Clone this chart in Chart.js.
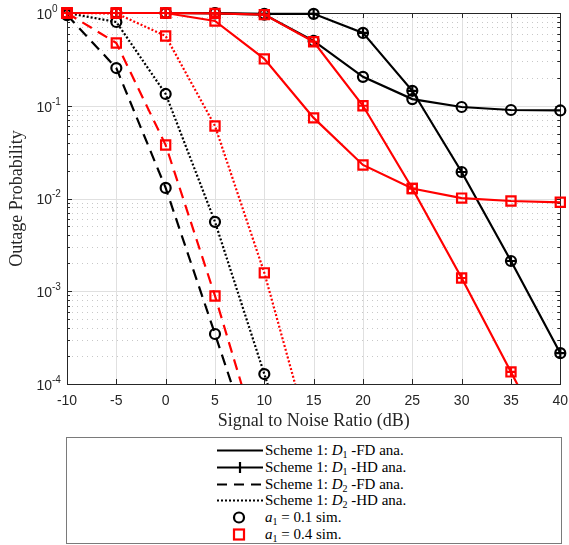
<!DOCTYPE html>
<html lang="en">
<head>
<meta charset="UTF-8">
<title>Outage Probability vs SNR</title>
<script src="https://cdn.jsdelivr.net/npm/chart.js@4.4.0/dist/chart.umd.min.js"></script>
<style>
  body { margin: 0; background: #fff; }
  #wrap { position: relative; width: 569px; height: 545px; overflow: hidden; }
  #plot { position: absolute; left: 0; top: 0; }
  .legend { position: absolute; left: 66px; top: 437px; width: 494px; height: 105px;
            border: 1px solid #7a7a7a; background: #fff;
            font-family: "Liberation Serif", serif; font-size: 15px; color: #000; }
  .row { position: absolute; left: 0; width: 100%; height: 17px; }
  .row svg { position: absolute; left: 150px; top: 0; }
  .row .txt { position: absolute; left: 198px; top: 0; line-height: 17px; white-space: nowrap; }
  .txt sub { font-size: 10px; vertical-align: -3px; line-height: 0; }
</style>
</head>
<body>
<div id="wrap">
  <canvas id="plot" width="569" height="434"></canvas>
  <div class="legend">
    <div class="row" style="top:4px">
      <svg width="46" height="17"><line x1="0" y1="8.5" x2="46" y2="8.5" stroke="#000" stroke-width="2.2"/></svg>
      <span class="txt">Scheme 1: <i>D</i><sub>1</sub> -FD ana.</span>
    </div>
    <div class="row" style="top:21px">
      <svg width="46" height="17"><line x1="0" y1="8.5" x2="46" y2="8.5" stroke="#000" stroke-width="2.2"/><line x1="23" y1="3" x2="23" y2="14" stroke="#000" stroke-width="2.2"/></svg>
      <span class="txt">Scheme 1: <i>D</i><sub>1</sub> -HD ana.</span>
    </div>
    <div class="row" style="top:38px">
      <svg width="46" height="17"><line x1="0" y1="8.5" x2="46" y2="8.5" stroke="#000" stroke-width="2.2" stroke-dasharray="10 7"/></svg>
      <span class="txt">Scheme 1: <i>D</i><sub>2</sub> -FD ana.</span>
    </div>
    <div class="row" style="top:54px">
      <svg width="46" height="17"><line x1="0" y1="8.5" x2="46" y2="8.5" stroke="#000" stroke-width="2.2" stroke-dasharray="2 2"/></svg>
      <span class="txt">Scheme 1: <i>D</i><sub>2</sub> -HD ana.</span>
    </div>
    <div class="row" style="top:71px">
      <svg width="46" height="17"><circle cx="22" cy="8.5" r="5" fill="none" stroke="#000" stroke-width="2.2"/></svg>
      <span class="txt"><i>a</i><sub>1</sub> = 0.1 sim.</span>
    </div>
    <div class="row" style="top:88px">
      <svg width="46" height="17"><rect x="17" y="3.5" width="10" height="10" fill="none" stroke="#f00" stroke-width="2.2"/></svg>
      <span class="txt"><i>a</i><sub>1</sub> = 0.4 sim.</span>
    </div>
  </div>
</div>
<script>
// SNR points (dB)
const snr = [-10, -5, 0, 5, 10, 15, 20, 25, 30, 35, 40];

// a1 = 0.1
const d1FdA01 = [1, 1, 1, 0.99, 0.96, 0.5, 0.205, 0.118, 0.097, 0.09, 0.089];
const d1HdA01 = [1, 1, 1, 1, 0.98, 0.98, 0.61, 0.145, 0.0193, 0.00212, 0.000215];
const d2FdA01 = [0.95, 0.255, 0.013, 0.000346, 0.0000087, null, null, null, null, null, null];
const d2HdA01 = [1, 0.8, 0.134, 0.0056, 0.000128, 0.000003, null, null, null, null, null];

// a1 = 0.4
const d1FdA04 = [1, 1, 1, 0.82, 0.32, 0.074, 0.023, 0.0128, 0.0101, 0.0094, 0.0091];
const d1HdA04 = [1, 1, 1, 0.99, 0.96, 0.49, 0.1, 0.0128, 0.00139, 0.000135, 0.0000125];
const d2FdA04 = [1, 0.475, 0.0377, 0.00089, 0.000015, null, null, null, null, null, null];
const d2HdA04 = [1, 0.99, 0.565, 0.0605, 0.00158, 0.000019, null, null, null, null, null];

// axis ticks
const xTicks = [-10, -5, 0, 5, 10, 15, 20, 25, 30, 35, 40];
const yTicks = [1e-4, 1e-3, 1e-2, 1e-1, 1];
const yTickBase = ['10', '10', '10', '10', '10'];
const yTickExp = ['-4', '-3', '-2', '-1', '0'];

const BLACK = '#000000';
const RED = '#ff0000';
const AXIS = '#262626';
const LW = 2.2;

const yMinor = [];
for (let e = -4; e < 0; e++) {
  for (let m = 2; m <= 9; m++) yMinor.push(m * Math.pow(10, e));
}

function pts(vals) {
  return snr.map((x, i) => ({ x: x, y: vals[i] })).filter(p => p.y !== null);
}

// a curve with its simulation markers on it
function curve(label, vals, color, dash, marker, radius) {
  return {
    label: label,
    data: pts(vals),
    borderColor: color,
    borderWidth: LW,
    borderDash: dash,
    pointStyle: marker,
    pointRadius: radius,
    pointBorderColor: color,
    pointBorderWidth: LW,
    pointBackgroundColor: 'rgba(0,0,0,0)',
    fill: false,
    tension: 0,
    clip: { left: 8, top: 8, right: 8, bottom: 0 }
  };
}

// '+' markers of the HD curves
function crosses(label, vals, color, radius) {
  return {
    label: label,
    data: pts(vals),
    showLine: false,
    pointStyle: 'cross',
    pointRadius: radius,
    pointBorderColor: color,
    pointBorderWidth: LW,
    clip: { left: 8, top: 8, right: 8, bottom: 0 }
  };
}

function hline(ctx, x1, x2, y) { ctx.beginPath(); ctx.moveTo(x1, y); ctx.lineTo(x2, y); ctx.stroke(); }
function vline(ctx, x, y1, y2) { ctx.beginPath(); ctx.moveTo(x, y1); ctx.lineTo(x, y2); ctx.stroke(); }

// grid, axes box, inward ticks and the 10^n labels
const frame = {
  id: 'frame',
  beforeDatasetsDraw(chart) {
    const { ctx, chartArea: a, scales: { x, y } } = chart;
    ctx.save();
    ctx.lineWidth = 1;

    ctx.strokeStyle = '#c8c8c8';
    ctx.setLineDash([1, 4]);
    yMinor.forEach(v => hline(ctx, a.left, a.right, Math.round(y.getPixelForValue(v)) + 0.5));
    ctx.setLineDash([]);

    ctx.strokeStyle = '#e0e0e0';
    xTicks.forEach(v => vline(ctx, Math.round(x.getPixelForValue(v)) + 0.5, a.top, a.bottom));
    yTicks.forEach(v => hline(ctx, a.left, a.right, Math.round(y.getPixelForValue(v)) + 0.5));

    ctx.strokeStyle = AXIS;
    xTicks.forEach(v => {
      const px = Math.round(x.getPixelForValue(v)) + 0.5;
      vline(ctx, px, a.bottom, a.bottom - 5);
      vline(ctx, px, a.top, a.top + 5);
    });
    yTicks.forEach(v => {
      const py = Math.round(y.getPixelForValue(v)) + 0.5;
      hline(ctx, a.left, a.left + 5, py);
      hline(ctx, a.right, a.right - 5, py);
    });
    yMinor.forEach(v => {
      const py = Math.round(y.getPixelForValue(v)) + 0.5;
      hline(ctx, a.left, a.left + 3, py);
      hline(ctx, a.right, a.right - 3, py);
    });
    ctx.strokeRect(Math.round(a.left) + 0.5, Math.round(a.top) + 0.5,
                   Math.round(a.right - a.left), Math.round(a.bottom - a.top));

    ctx.fillStyle = AXIS;
    ctx.textBaseline = 'middle';
    yTicks.forEach((v, i) => {
      const py = y.getPixelForValue(v);
      ctx.font = '14px "Liberation Sans"';
      ctx.textAlign = 'right';
      ctx.fillText(yTickBase[i], 52, py + 2);
      ctx.font = '10px "Liberation Sans"';
      ctx.textAlign = 'left';
      ctx.fillText(yTickExp[i], 52, py - 4);
    });
    ctx.restore();
  }
};

new Chart(document.getElementById('plot'), {
  type: 'line',
  data: {
    datasets: [
      crosses('D1 HD a1=0.4 +', d1HdA04, RED, 4.5),
      curve('D1 HD a1=0.4', d1HdA04, RED, [], 'rect', 6.5),
      curve('D1 FD a1=0.4', d1FdA04, RED, [], 'rect', 6.5),
      curve('D2 FD a1=0.4', d2FdA04, RED, [11, 7], 'rect', 6.5),
      curve('D2 HD a1=0.4', d2HdA04, RED, [2, 2], 'rect', 6.5),
      crosses('D1 HD a1=0.1 +', d1HdA01, BLACK, 5),
      curve('D1 HD a1=0.1', d1HdA01, BLACK, [], 'circle', 5),
      curve('D1 FD a1=0.1', d1FdA01, BLACK, [], 'circle', 5),
      curve('D2 FD a1=0.1', d2FdA01, BLACK, [11, 7], 'circle', 5),
      curve('D2 HD a1=0.1', d2HdA01, BLACK, [2, 2], 'circle', 5)
    ]
  },
  options: {
    responsive: false,
    animation: false,
    layout: { padding: { left: 0, top: 13, right: 3, bottom: 0 } },
    plugins: { legend: { display: false }, tooltip: { enabled: false } },
    scales: {
      x: {
        type: 'linear',
        min: -10,
        max: 40,
        afterBuildTicks: s => { s.ticks = xTicks.map(v => ({ value: v })); },
        afterFit: s => { s.height = 50; s.paddingLeft = 0; s.paddingRight = 0; },
        grid: { display: false },
        border: { display: false },
        ticks: {
          color: AXIS, padding: 1, maxRotation: 0,
          font: { family: 'Liberation Sans', size: 14 },
          callback: v => String(v)
        },
        title: {
          display: true, text: 'Signal to Noise Ratio (dB)', color: AXIS,
          font: { family: 'Liberation Serif', size: 18 },
          padding: { top: 0, bottom: 2 }
        }
      },
      y: {
        type: 'logarithmic',
        min: 1e-4,
        max: 1,
        afterBuildTicks: s => { s.ticks = yTicks.map(v => ({ value: v })); },
        afterFit: s => { s.width = 67; s.paddingTop = 0; s.paddingBottom = 0; },
        grid: { display: false },
        border: { display: false },
        ticks: { display: false },
        title: {
          display: true, text: 'Outage Probability', color: AXIS,
          font: { family: 'Liberation Serif', size: 18 },
          padding: { top: 6, bottom: 0 }
        }
      }
    }
  },
  plugins: [frame]
});
</script>
</body>
</html>
